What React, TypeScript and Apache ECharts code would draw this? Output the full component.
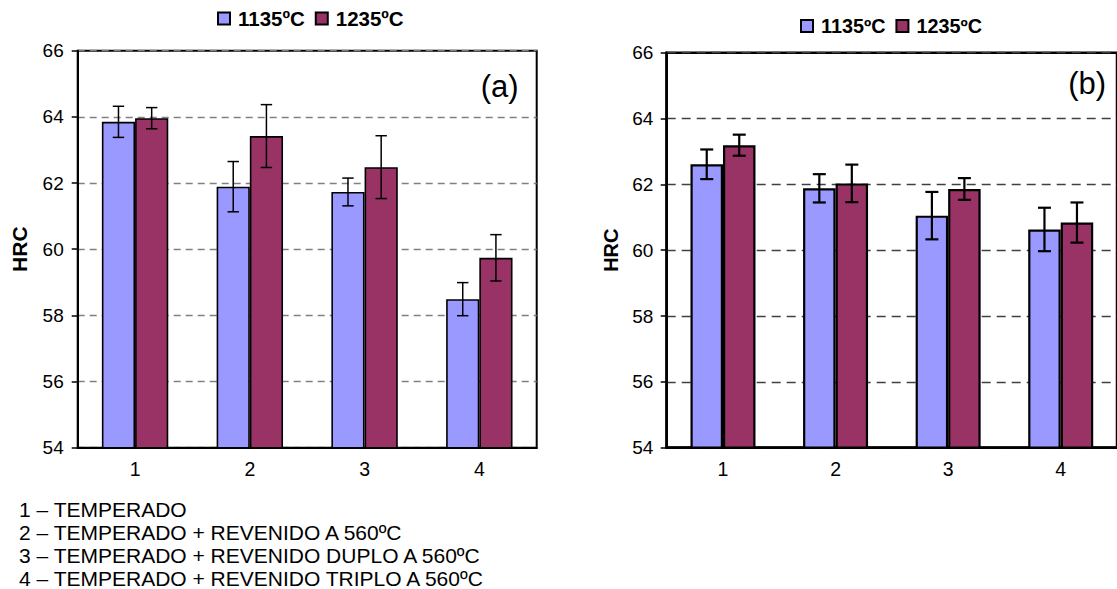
import React, { useEffect, useRef } from "react";
import * as echarts from "echarts";

const categories = ["1", "2", "3", "4"];
const seriesNames = ["1135ºC", "1235ºC"];

// Chart (a)
const a1135 = [63.85, 61.89, 61.73, 58.49];
const a1135Err = [0.47, 0.76, 0.42, 0.5];
const a1235 = [63.96, 63.42, 62.48, 59.74];
const a1235Err = [0.32, 0.95, 0.95, 0.7];

// Chart (b)
const b1135 = [62.61, 61.88, 61.05, 60.63];
const b1135Err = [0.45, 0.43, 0.72, 0.66];
const b1235 = [63.19, 62.03, 61.86, 60.84];
const b1235Err = [0.32, 0.57, 0.33, 0.61];

const yMin = 54;
const yMax = 66;
const yInterval = 2;

const notes = [
  "1 – TEMPERADO",
  "2 – TEMPERADO + REVENIDO A 560ºC",
  "3 – TEMPERADO + REVENIDO DUPLO A 560ºC",
  "4 – TEMPERADO + REVENIDO TRIPLO A 560ºC",
];

const BLUE = "#9999FF";
const RED = "#993366";
const FONT = "'Liberation Sans', Arial, sans-serif";

function errData(vals: number[], errs: number[]) {
  return vals.map((v, i) => [i, v - errs[i], v + errs[i]]);
}

function errSeries(
  name: string,
  vals: number[],
  errs: number[],
  gridIdx: number,
  offset: number,
  capHalf: number,
  lw: number
) {
  return {
    type: "custom",
    name,
    xAxisIndex: gridIdx,
    yAxisIndex: gridIdx,
    z: 5,
    silent: true,
    encode: { x: 0, y: [1, 2] },
    data: errData(vals, errs),
    renderItem: (params: any, api: any) => {
      const x = api.value(0);
      const lo = api.coord([x, api.value(1)]);
      const hi = api.coord([x, api.value(2)]);
      const cx = hi[0] + offset;
      const style = { stroke: "#000", lineWidth: lw };
      return {
        type: "group",
        children: [
          { type: "line", shape: { x1: cx, y1: hi[1], x2: cx, y2: lo[1] }, style },
          { type: "line", shape: { x1: cx - capHalf, y1: hi[1], x2: cx + capHalf, y2: hi[1] }, style },
          { type: "line", shape: { x1: cx - capHalf, y1: lo[1], x2: cx + capHalf, y2: lo[1] }, style },
        ],
      };
    },
  };
}

export default function App() {
  const ref = useRef<HTMLDivElement>(null);

  useEffect(() => {
    if (!ref.current) return;
    const chart = echarts.init(ref.current, null, { renderer: "svg" });

    const barA = 33.2;
    const barB = 32.5;

    const yAxisCommon = (gridIndex: number, lineW: number, gridColor: string, dash: number[], margin: number, nameGap: number, nameSize: number) => ({
      type: "value",
      gridIndex,
      min: yMin,
      max: yMax,
      interval: yInterval,
      name: "HRC",
      nameLocation: "middle",
      nameRotate: 90,
      nameGap,
      nameTextStyle: { fontFamily: FONT, fontWeight: "bold", fontSize: nameSize, color: "#000" },
      axisLine: { show: true, lineStyle: { color: "#000", width: lineW } },
      axisTick: { show: true, length: 6, lineStyle: { color: "#000", width: 1.5 } },
      axisLabel: { color: "#000", fontSize: 19, fontFamily: FONT, margin },
      splitLine: { show: true, lineStyle: { color: gridColor, width: 1.3, type: dash } },
    });

    const xAxisCommon = (gridIndex: number, lineW: number) => ({
      type: "category",
      gridIndex,
      data: categories,
      axisLine: { show: true, lineStyle: { color: "#000", width: lineW } },
      axisTick: { show: false },
      axisLabel: { color: "#000", fontSize: 19.5, fontFamily: FONT, margin: 11 },
      splitLine: { show: false },
    });

    const option: any = {
      animation: false,
      textStyle: { fontFamily: FONT },
      grid: [
        { left: 77.7, top: 50.7, width: 459, height: 397, show: true, borderColor: "#000", borderWidth: 2, backgroundColor: "transparent" },
        { left: 666.7, top: 52.7, width: 454.8, height: 395, show: true, borderColor: "#000", borderWidth: 2.5, backgroundColor: "transparent" },
      ],
      legend: [
        {
          data: seriesNames,
          left: 217,
          top: 8,
          padding: 0,
          itemWidth: 12,
          itemHeight: 12,
          itemGap: 10,
          icon: "rect",
          textStyle: { fontFamily: FONT, fontWeight: "bold", fontSize: 20.5, color: "#000", padding: [0, 0, 0, 3] },
        },
        {
          data: seriesNames,
          left: 800,
          top: 16,
          padding: 0,
          itemWidth: 12,
          itemHeight: 12,
          itemGap: 10,
          icon: "rect",
          textStyle: { fontFamily: FONT, fontWeight: "bold", fontSize: 19.8, color: "#000", padding: [0, 0, 0, 3] },
        },
      ],
      xAxis: [xAxisCommon(0, 2), xAxisCommon(1, 2.5)],
      yAxis: [
        yAxisCommon(0, 2, "#808080", [7, 5], 14, 48, 21),
        yAxisCommon(1, 2.5, "#404040", [9, 6], 13.4, 46, 20),
      ],
      series: [
        {
          type: "bar", name: seriesNames[0], xAxisIndex: 0, yAxisIndex: 0, data: a1135,
          barWidth: barA, barGap: "0%",
          itemStyle: { color: BLUE, borderColor: "#000", borderWidth: 1.6 },
        },
        {
          type: "bar", name: seriesNames[1], xAxisIndex: 0, yAxisIndex: 0, data: a1235,
          barWidth: barA, barGap: "0%",
          itemStyle: { color: RED, borderColor: "#000", borderWidth: 1.6 },
        },
        {
          type: "bar", name: seriesNames[0], xAxisIndex: 1, yAxisIndex: 1, data: b1135,
          barWidth: barB, barGap: "0%",
          itemStyle: { color: BLUE, borderColor: "#000", borderWidth: 2.2 },
        },
        {
          type: "bar", name: seriesNames[1], xAxisIndex: 1, yAxisIndex: 1, data: b1235,
          barWidth: barB, barGap: "0%",
          itemStyle: { color: RED, borderColor: "#000", borderWidth: 2.2 },
        },
        errSeries("errA1135", a1135, a1135Err, 0, -barA / 2, 5.7, 1.5),
        errSeries("errA1235", a1235, a1235Err, 0, barA / 2, 5.7, 1.5),
        errSeries("errB1135", b1135, b1135Err, 1, -barB / 2, 6.5, 2.2),
        errSeries("errB1235", b1235, b1235Err, 1, barB / 2, 6.5, 2.2),
      ],
      graphic: [
        {
          type: "text", left: 480.7, top: 88 - 17,
          style: { text: "(a)", fontSize: 31, fontFamily: FONT, fill: "#000" },
        },
        {
          type: "text", left: 1068.3, top: 85 - 17,
          style: { text: "(b)", fontSize: 31, fontFamily: FONT, fill: "#000" },
        },
        ...notes.map((t, i) => ({
          type: "text",
          left: 19,
          top: 507 - 8 + i * 23,
          style: { text: t, fontSize: 21, lineHeight: 16, fontFamily: FONT, fill: "#000" },
        })),
      ],
    };

    chart.setOption(option);
    return () => chart.dispose();
  }, []);

  return (
    <div
      ref={ref}
      style={{ position: "fixed", left: 0, top: 0, width: 1117, height: 589, background: "#fff" }}
    />
  );
}
